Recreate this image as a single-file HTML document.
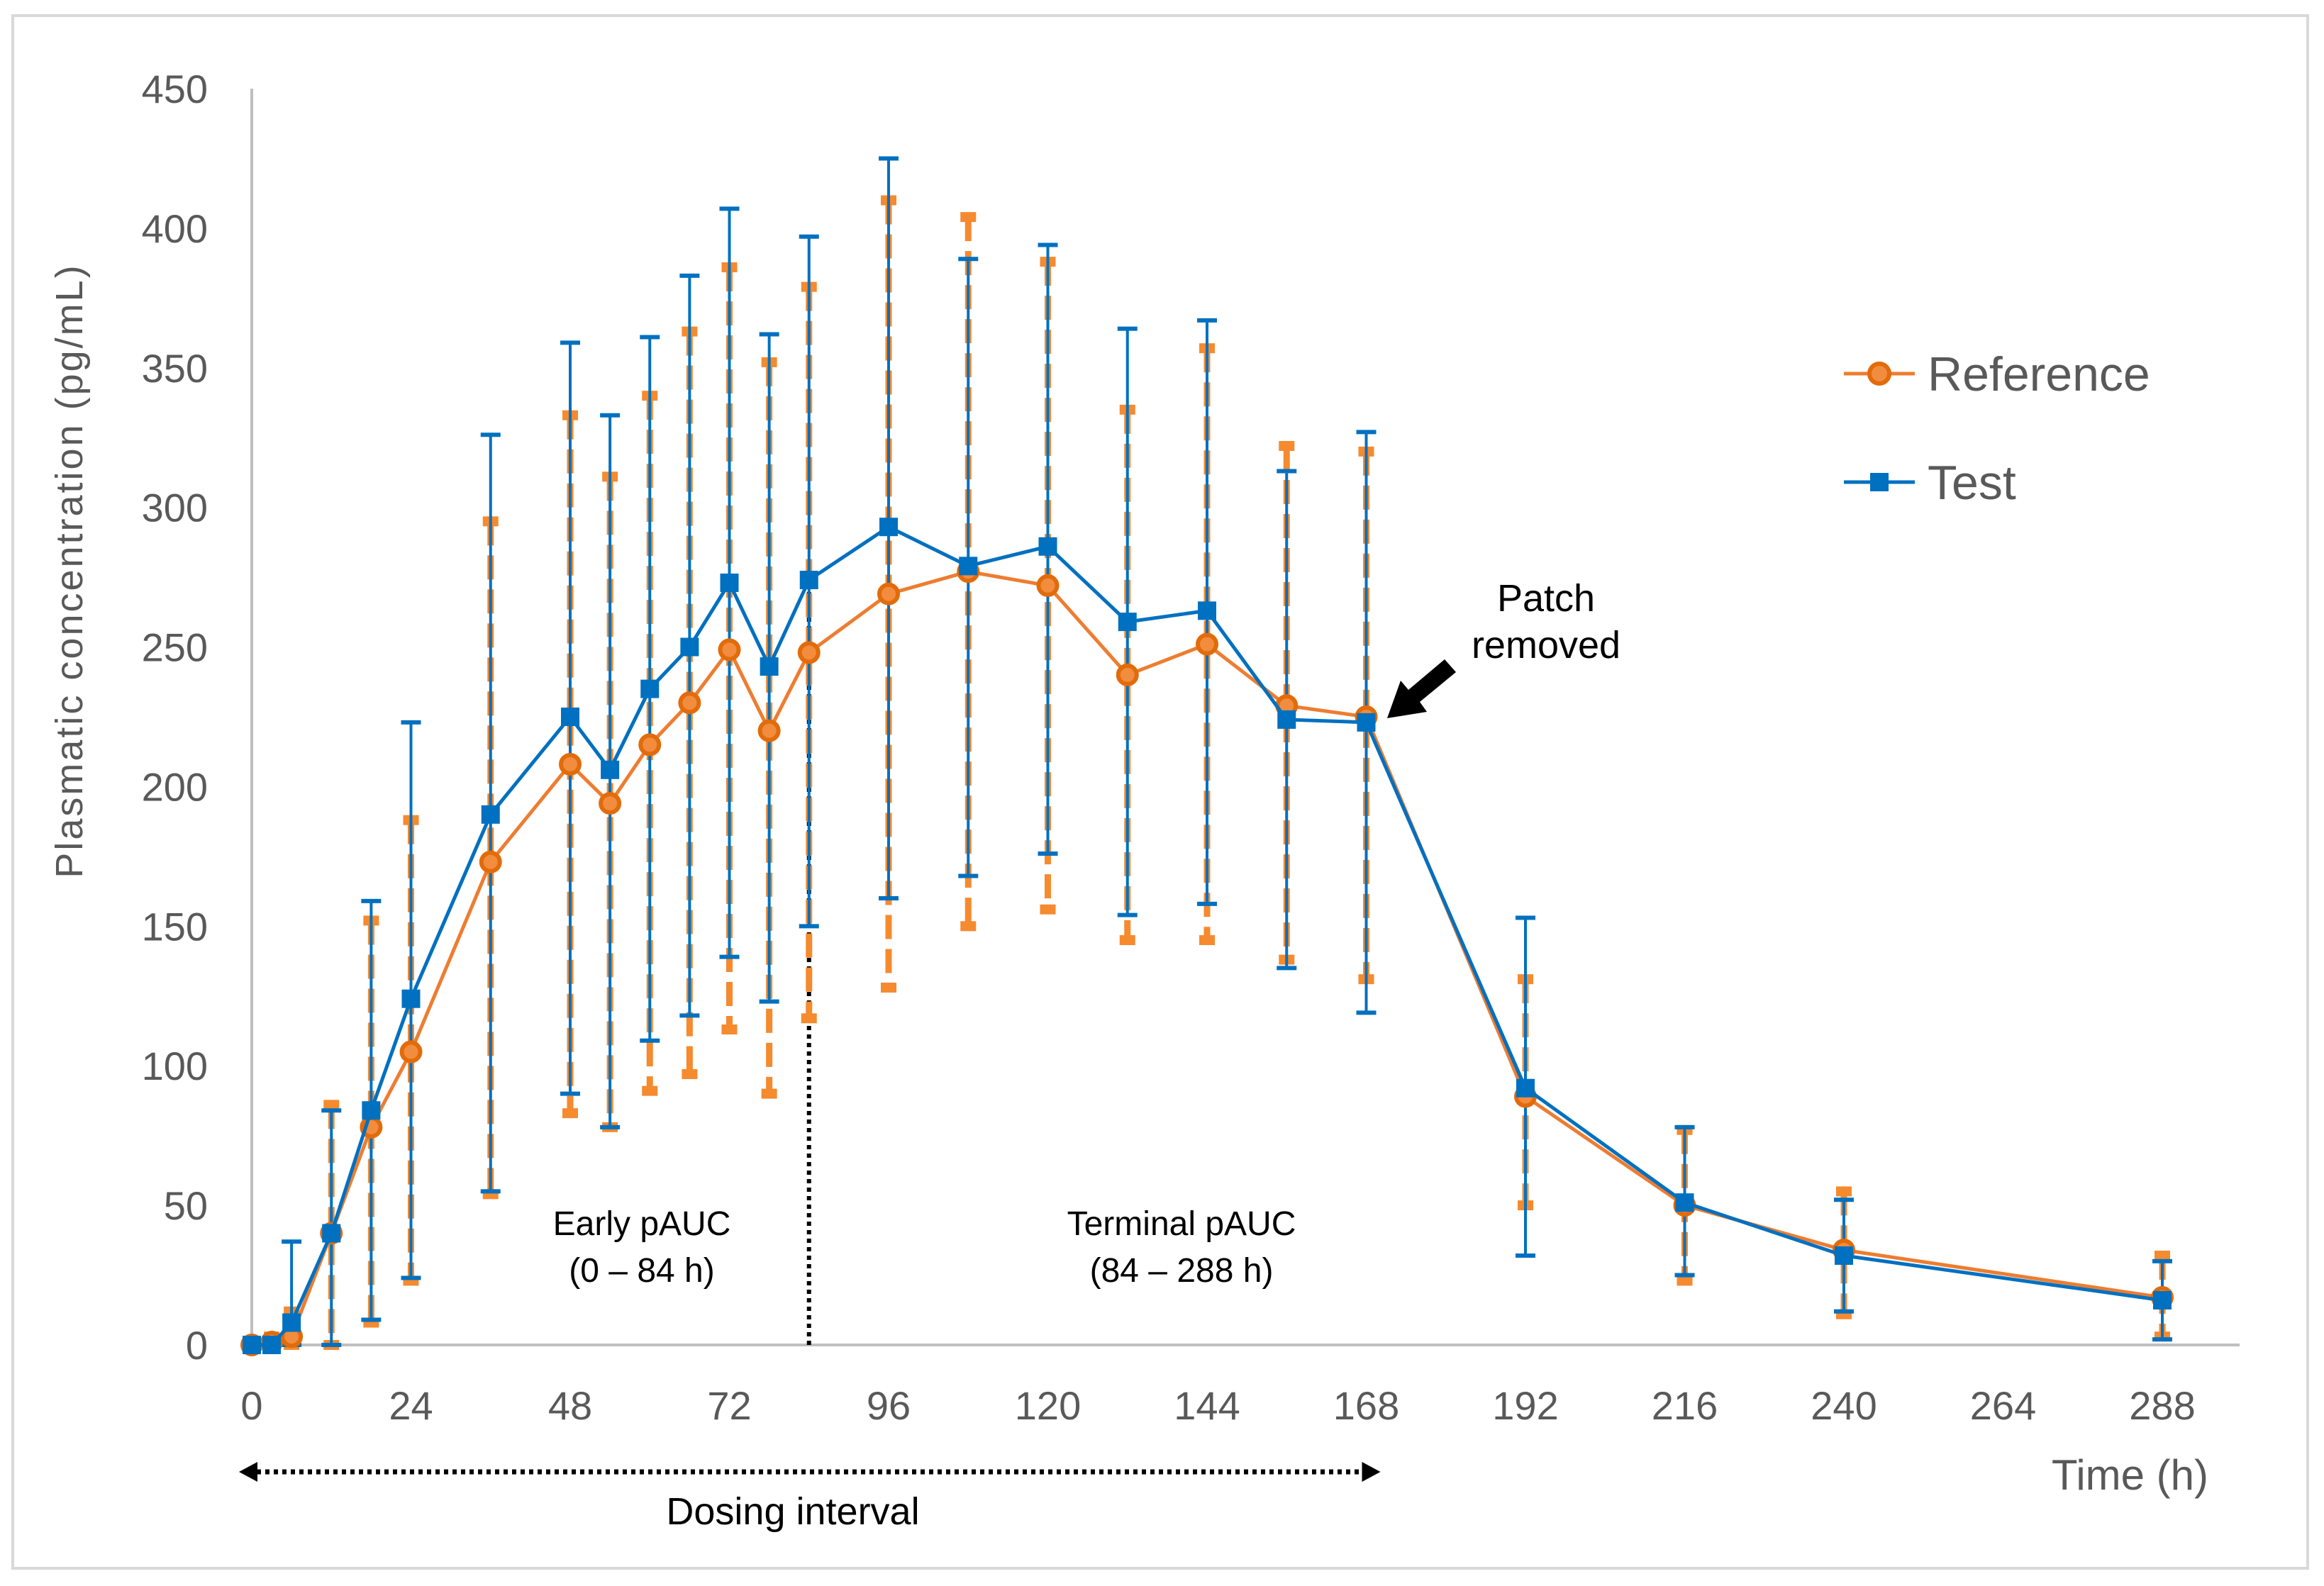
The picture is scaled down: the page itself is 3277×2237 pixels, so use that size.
<!DOCTYPE html>
<html><head><meta charset="utf-8"><style>
html,body{margin:0;padding:0;background:#fff;}
svg{display:block;font-family:"Liberation Sans",sans-serif;}
</style></head><body>
<svg id="chart" width="3277" height="2237" viewBox="0 0 3277 2237" xmlns="http://www.w3.org/2000/svg">
<rect x="18" y="22" width="3236" height="2190" fill="#fff" stroke="#d9d9d9" stroke-width="4"/>
<g id="grid"></g>
<g id="marks"></g>
<g id="legend">
  <g>
    <line x1="2600" y1="527" x2="2700" y2="527" stroke="#ED7D31" stroke-width="5"/>
    <circle cx="2650" cy="527" r="14" fill="#F28C3E" stroke="#E26B0A" stroke-width="6"/>
    <text x="2718" y="551" font-size="68" fill="#595959">Reference</text>
  </g>
  <g>
    <line x1="2600" y1="680" x2="2700" y2="680" stroke="#0070C0" stroke-width="5"/>
    <rect x="2637" y="667" width="26" height="26" fill="#0070C0"/>
    <text x="2718" y="704" font-size="68" fill="#595959">Test</text>
  </g>
</g>
<g fill="#000" text-anchor="middle">
  <text x="905" y="1742" font-size="48">Early pAUC</text>
  <text x="905" y="1808" font-size="48">(0 – 84 h)</text>
  <text x="1666" y="1742" font-size="48">Terminal pAUC</text>
  <text x="1666" y="1808" font-size="48">(84 – 288 h)</text>
  <text x="2180" y="862" font-size="54">Patch</text>
  <text x="2180" y="928" font-size="54">removed</text>
  <text x="1118" y="2150" font-size="54">Dosing interval</text>
</g>
<polygon points="2037,930 2053,948 2002,990 2012,1004 1956,1013 1975,960 1986,973" fill="#000"/>
</svg>
<script>
// ---- data ----
const times = [0,3,6,12,18,24,36,48,54,60,66,72,78,84,96,108,120,132,144,156,168,192,216,240,288];
const refMean = [0,1,3,40,78,105,173,208,194,215,230,249,220,248,269,277,272,240,251,229,225,89,50,34,17];
const refUpper = [0,3,12,86,152,188,295,333,311,340,363,386,352,379,410,404,388,335,357,322,320,131,77,55,32];
const refLower = [0,0,0,0,8,23,54,83,78,91,97,113,90,117,128,150,156,145,145,138,131,50,23,11,3];
const testMean = [0,0,8,40,84,124,190,225,206,235,250,273,243,274,293,279,286,259,263,224,223,92,51,32,16];
const testUpper = [0,1,37,84,159,223,326,359,333,361,383,407,362,397,425,389,394,364,367,313,327,153,78,52,30];
const testLower = [0,0,0,0,9,24,55,90,78,109,118,139,123,150,160,168,176,154,158,135,119,32,25,12,2];
const yTicks = [0,50,100,150,200,250,300,350,400,450];
const xTicks = [0,24,48,72,96,120,144,168,192,216,240,264,288];

const NS = "http://www.w3.org/2000/svg";
const X0 = 355, X1 = 3049, Y0 = 1897, Y1 = 125;
function xs(t){ return X0 + (t/288)*(X1-X0); }
function ys(v){ return Y0 - (v/450)*(Y0-Y1); }
function mk(tag, attrs, parent){
  const e = document.createElementNS(NS, tag);
  for (const k in attrs) e.setAttribute(k, attrs[k]);
  parent.appendChild(e); return e;
}
const grid = document.getElementById('grid');
const marks = document.getElementById('marks');

const ya = mk('line',{x1:X0,y1:Y1,x2:X0,y2:Y0,stroke:'#bfbfbf','stroke-width':4},grid);


const xa = mk('line',{x1:X0,y1:Y0,x2:3158,y2:Y0,stroke:'#bfbfbf','stroke-width':4},grid);



yTicks.forEach(v=>{
  const t = mk('text',{x:293,y:ys(v)+20,'font-size':56,fill:'#595959','text-anchor':'end'},grid);
  t.textContent = v;
  
  
});
xTicks.forEach(v=>{
  const t = mk('text',{x:xs(v),y:2002,'font-size':56,fill:'#595959','text-anchor':'middle'},grid);
  t.textContent = v;
  
  
});
const yt = mk('text',{x:0,y:0,'font-size':54,fill:'#595959','text-anchor':'middle','letter-spacing':'3',transform:'translate(116,805) rotate(-90)'},grid);
yt.textContent = 'Plasmatic concentration (pg/mL)';


const xt = mk('text',{x:3114,y:2101,'font-size':60,fill:'#595959','text-anchor':'end'},grid);
xt.textContent = 'Time (h)';



const dv = mk('line',{x1:xs(84),y1:Y0,x2:xs(84),y2:ys(272),stroke:'#000','stroke-width':6,'stroke-dasharray':'6 6'},grid);



const di = mk('g',{},grid);


mk('line',{x1:xs(0)-5,y1:2076,x2:xs(168)+5,y2:2076,stroke:'#000','stroke-width':7,'stroke-dasharray':'6 6'},di);
mk('polygon',{points:`${xs(0)-18},2076 ${xs(0)+8},2062 ${xs(0)+8},2090`,fill:'#000'},di);
mk('polygon',{points:`${xs(168)+20},2076 ${xs(168)-6},2062 ${xs(168)-6},2090`,fill:'#000'},di);

times.forEach((t,i)=>{
  if (refUpper[i]-refLower[i] < 2) return;
  const g = mk('g',{},marks);
  
  
  mk('line',{x1:xs(t),y1:ys(refUpper[i]),x2:xs(t),y2:ys(refLower[i]),stroke:'#F58A2E','stroke-width':9,'stroke-dasharray':'34 14'},g);
  mk('rect',{x:xs(t)-11,y:ys(refUpper[i])-7,width:22,height:14,fill:'#F58A2E'},g);
  mk('rect',{x:xs(t)-11,y:ys(refLower[i])-7,width:22,height:14,fill:'#F58A2E'},g);
});
times.forEach((t,i)=>{
  if (testUpper[i]-testLower[i] < 2) return;
  const g = mk('g',{},marks);
  
  
  mk('line',{x1:xs(t),y1:ys(testUpper[i]),x2:xs(t),y2:ys(testLower[i]),stroke:'#0070C0','stroke-width':4},g);
  mk('line',{x1:xs(t)-14,y1:ys(testUpper[i]),x2:xs(t)+14,y2:ys(testUpper[i]),stroke:'#0070C0','stroke-width':6},g);
  mk('line',{x1:xs(t)-14,y1:ys(testLower[i]),x2:xs(t)+14,y2:ys(testLower[i]),stroke:'#0070C0','stroke-width':6},g);
});
const rl = mk('polyline',{points:times.map((t,i)=>xs(t)+','+ys(refMean[i])).join(' '),fill:'none',stroke:'#ED7D31','stroke-width':5},marks);


times.forEach((t,i)=>{
  const c = mk('circle',{cx:xs(t),cy:ys(refMean[i]),r:13,fill:'#F28C3E',stroke:'#E26B0A','stroke-width':6},marks);
  
  
});
const tl = mk('polyline',{points:times.map((t,i)=>xs(t)+','+ys(testMean[i])).join(' '),fill:'none',stroke:'#0070C0','stroke-width':5},marks);


times.forEach((t,i)=>{
  const r = mk('rect',{x:xs(t)-13,y:ys(testMean[i])-13,width:26,height:26,fill:'#0070C0'},marks);
  
  
});
</script>
</body></html>
